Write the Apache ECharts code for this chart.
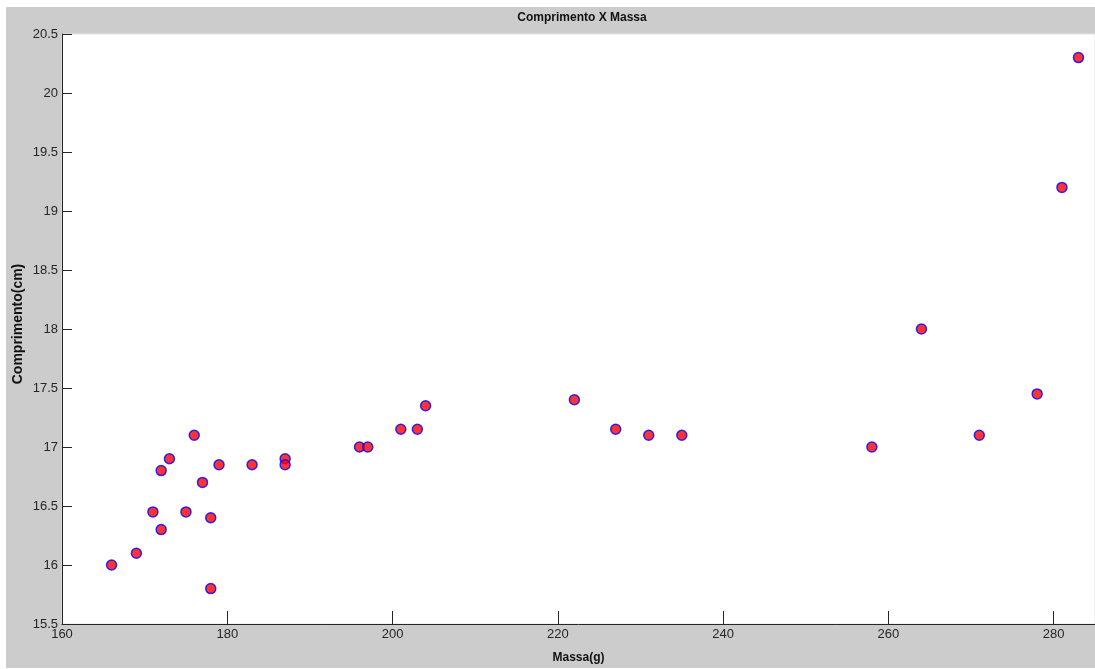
<!DOCTYPE html>
<html>
<head>
<meta charset="utf-8">
<script src="https://cdn.jsdelivr.net/npm/echarts@6/dist/echarts.min.js"></script>
<style>
  html, body { margin: 0; padding: 0; background: #fff; }
  #chart { width: 1095px; height: 669px; }
</style>
</head>
<body>
<div id="chart"></div>
<script>
// massa (g) e comprimento (cm)
const massa = [166, 169, 171, 172, 172, 173, 175, 176, 177, 178, 178, 179, 183, 187, 187,
  196, 197, 201, 203, 204, 222, 227, 231, 235, 258, 264, 271, 278, 281, 283];
const comprimento = [16.0, 16.1, 16.45, 16.3, 16.8, 16.9, 16.45, 17.1, 16.7, 16.4, 15.8, 16.85, 16.85, 16.9, 16.85,
  17.0, 17.0, 17.15, 17.15, 17.35, 17.4, 17.15, 17.1, 17.1, 17.0, 18.0, 17.1, 17.45, 19.2, 20.3];
const xTicks = [160, 180, 200, 220, 240, 260, 280];
const yTicks = [15.5, 16, 16.5, 17, 17.5, 18, 18.5, 19, 19.5, 20, 20.5];

const points = massa.map((m, i) => [m, comprimento[i]]);
const font = "Liberation Sans, Arial, sans-serif";
const dark = "#262626";

const chart = echarts.init(document.getElementById("chart"));
chart.setOption({
  backgroundColor: "#ffffff",
  animation: false,
  graphic: [
    {
      type: "rect",
      z: -10,
      silent: true,
      shape: { x: 6, y: 7, width: 1089, height: 661 },
      style: { fill: "#cccccc" },
    },
    // y label drawn by hand, the original has wide letter spacing
    {
      type: "text",
      x: 18,
      y: 324,
      rotation: Math.PI / 2,
      silent: true,
      style: {
        text: "Comprimento(cm)",
        font: "bold 14px " + font,
        fill: "#111",
        align: "center",
        verticalAlign: "middle",
      },
    },
  ],
  title: {
    text: "Comprimento X Massa",
    left: 577,
    top: 7,
    textAlign: "center",
    textStyle: { fontFamily: font, fontSize: 12, fontWeight: "bold", color: "#111" },
  },
  grid: {
    left: 62,
    top: 34,
    right: 0,
    bottom: 39,
    show: true,
    backgroundColor: "#ffffff",
    borderColor: "#e6e6e6",
    borderWidth: 1,
  },
  xAxis: {
    type: "value",
    min: xTicks[0],
    max: 285,
    interval: 20,
    name: "Massa(g)",
    nameLocation: "middle",
    nameGap: 28,
    nameTextStyle: { fontFamily: font, fontSize: 12, fontWeight: "bold", color: "#111" },
    splitLine: { show: false },
    axisLine: { show: true, lineStyle: { color: dark, width: 1 } },
    axisTick: { show: true, inside: true, length: 13, lineStyle: { color: dark } },
    axisLabel: {
      showMaxLabel: false,
      margin: 4,
      fontFamily: font,
      fontSize: 13,
      color: dark,
    },
  },
  yAxis: {
    type: "value",
    min: yTicks[0],
    max: yTicks[yTicks.length - 1],
    interval: 0.5,
    splitLine: { show: false },
    axisLine: { show: true, lineStyle: { color: dark, width: 1 } },
    axisTick: { show: true, inside: true, length: 10, lineStyle: { color: dark } },
    axisLabel: {
      margin: 4,
      fontFamily: font,
      fontSize: 13,
      color: dark,
    },
  },
  series: [
    {
      type: "scatter",
      data: points,
      symbol: "circle",
      symbolSize: 10,
      itemStyle: { color: "#ff0000", borderColor: "#0000ff", borderWidth: 1.5 },
    },
  ],
});
</script>
</body>
</html>
